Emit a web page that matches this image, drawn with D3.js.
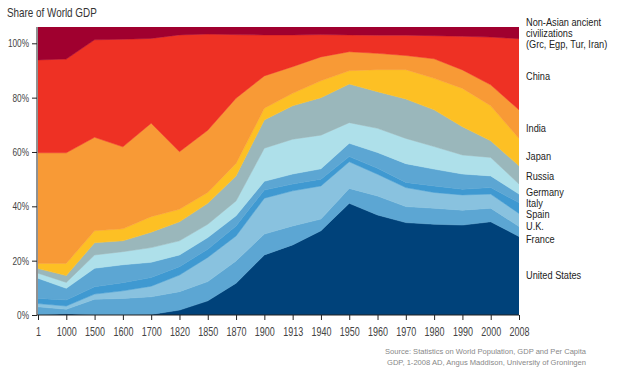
<!DOCTYPE html>
<html><head><meta charset="utf-8">
<script src="https://cdn.jsdelivr.net/npm/d3@7"></script>
<style>
html,body{margin:0;padding:0;background:#fff;}
svg{display:block;}
text{font-family:"Liberation Sans",Arial,sans-serif;}
</style></head>
<body>
<svg id="c" width="620" height="381"></svg>
<script>
// ---- data (percent share of world GDP) ----
const years = ["1","1000","1500","1600","1700","1820","1850","1870","1900","1913","1940","1950","1960","1970","1980","1990","2000","2008"];
const unitedStates = [0,0.5,0,0,0.2,1.8,5.2,11.7,22.1,25.8,31.0,41.1,36.8,34.0,33.4,33.1,34.3,28.9];
const france       = [3.0,1.6,5.8,6.1,6.5,6.8,7.1,8.2,7.7,7.0,4.3,5.5,7.0,5.9,5.9,5.5,5.0,3.7];
const uk           = [1.2,1.2,1.9,2.8,3.9,6.1,8.9,9.2,13.2,12.9,12.2,9.8,8.0,7.0,5.8,5.6,5.2,4.8];
const spain        = [1.9,2.2,2.7,3.0,3.2,3.1,3.0,3.7,3.0,2.5,2.5,1.9,2.2,1.9,2.4,2.1,2.4,3.9];
const italy        = [7.4,4.3,6.8,6.6,5.6,4.3,4.3,3.7,3.2,3.7,3.8,4.9,5.8,6.9,6.2,5.6,4.3,3.2];
const germany      = [1.9,2.2,4.9,4.8,5.4,5.2,4.9,5.5,12.2,12.8,12.4,7.6,8.9,9.3,8.3,7.0,6.8,3.7];
const russia       = [1.7,2.5,4.5,4.0,5.7,7.0,7.7,9.2,10.4,12.3,13.8,14.2,13.5,14.5,13.5,10.4,6.1,6.7];
const japan        = [1.9,4.5,4.4,4.4,5.7,4.6,4.0,4.6,4.3,4.6,6.2,4.9,8.1,10.8,11.6,14.1,12.9,10.1];
const india        = [40.7,40.7,34.4,30.2,34.4,21.2,22.9,24.0,11.9,9.8,8.8,7.0,6.0,5.2,7.2,6.8,7.7,10.5];
const china        = [34.2,34.5,35.9,39.6,31.2,43.0,35.4,23.4,15.1,11.7,8.2,6.2,6.7,7.5,8.5,12.4,17.6,26.2];
const ancient      = [12.1,11.8,4.7,4.5,4.2,2.9,2.6,2.8,2.9,2.9,2.8,2.9,3.0,3.0,3.2,3.4,3.7,4.3];
const seriesNames  = ["United States","France","U.K.","Spain","Italy","Germany","Russia","Japan","India","China","Non-Asian ancient civilizations (Grc, Egp, Tur, Iran)"];
const seriesValues = [unitedStates,france,uk,spain,italy,germany,russia,japan,india,china,ancient];
const yTicks = [0,20,40,60,80,100];

// ---- styling / layout ----
const colors = ["#00427a","#5ca6d3","#89c2df","#3f99d1","#5ca6d3","#aee0ea","#9ab7bb","#fdc024","#f89a36","#ee3124","#a0002f"];
const legendLines = [
  {lines:["United States"], y:275},
  {lines:["France"], y:239},
  {lines:["U.K."], y:226},
  {lines:["Spain"], y:214},
  {lines:["Italy"], y:203},
  {lines:["Germany"], y:192},
  {lines:["Russia"], y:176},
  {lines:["Japan"], y:156},
  {lines:["India"], y:128},
  {lines:["China"], y:76},
  {lines:["Non-Asian ancient","civilizations","(Grc, Egp, Tur, Iran)"], y:22}
];

const svg = d3.select("#c");
const x = d3.scalePoint().domain(years).range([38, 519]);
const y = d3.scaleLinear().domain([0, 106]).range([315, 27]);

const table = years.map((yr, i) => {
  const row = {year: yr};
  seriesNames.forEach((n, k) => row[n] = seriesValues[k][i]);
  return row;
});
const stacked = d3.stack().keys(seriesNames)(table);

svg.append("clipPath").attr("id","plot").append("rect")
  .attr("x", 38).attr("y", 27).attr("width", 481).attr("height", 288);

const area = d3.area()
  .x(d => x(d.data.year))
  .y0(d => y(d[0]))
  .y1(d => y(d[1]));

svg.append("g").attr("clip-path","url(#plot)")
  .selectAll("path").data(stacked).join("path")
  .attr("d", area)
  .attr("fill", (d, i) => colors[i])
  .attr("stroke", (d, i) => colors[i])
  .attr("stroke-width", 0.5);

// axes
const ySX = 0.75;
const yAxis = svg.append("g").attr("transform","translate(37,0)")
  .call(d3.axisLeft(y).tickValues(yTicks).tickFormat(d => d + "%").tickSize(5).tickSizeOuter(0).tickPadding(3));
yAxis.select(".domain").remove();
yAxis.append("line").attr("x1",0).attr("x2",0).attr("y1",y(106)).attr("y2",y(0)).attr("stroke","#222");
yAxis.selectAll(".tick line").attr("stroke","#222");
yAxis.selectAll(".tick text").attr("fill","#444").style("font-size","11px")
  .attr("x", -8 / ySX).attr("transform", `scale(${ySX},1)`);

const xSX = 0.72;
const xAxis = svg.append("g").attr("transform","translate(0,315)")
  .call(d3.axisBottom(x).tickSize(5).tickSizeOuter(0).tickPadding(7));
xAxis.select(".domain").attr("stroke","#222").attr("d","M37,0H519");
xAxis.selectAll(".tick line").attr("stroke","#222");
xAxis.selectAll(".tick text").attr("fill","#444").style("font-size","12.5px")
  .attr("transform", `scale(${xSX},1)`);

// title
svg.append("text").attr("transform","translate(7,17) scale(0.79,1)").attr("fill","#333")
  .style("font-size","12.5px").text("Share of World GDP");

// legend labels
const lSX = 0.8;
const lg = svg.append("g");
legendLines.forEach(l => {
  const t = lg.append("text").attr("transform", `translate(526,${l.y}) scale(${lSX},1)`)
    .attr("fill","#222").style("font-size","11.5px");
  l.lines.forEach((s, j) => t.append("tspan").attr("x", 0).attr("dy", j === 0 ? "0.35em" : "11.2").text(s));
});

// source
const src = svg.append("text").attr("text-anchor","end").attr("fill","#888").style("font-size","8px")
  .style("font-family","'Liberation Sans','DejaVu Sans',sans-serif");
src.append("tspan").attr("x",586).attr("y",354).attr("textLength",201).attr("lengthAdjust","spacingAndGlyphs").text("Source: Statistics on World Population,  GDP and Per Capita");
src.append("tspan").attr("x",586).attr("y",365).attr("textLength",199).attr("lengthAdjust","spacingAndGlyphs").text("GDP, 1-2008 AD, Angus Maddison, University of Groningen");
</script>
</body></html>
